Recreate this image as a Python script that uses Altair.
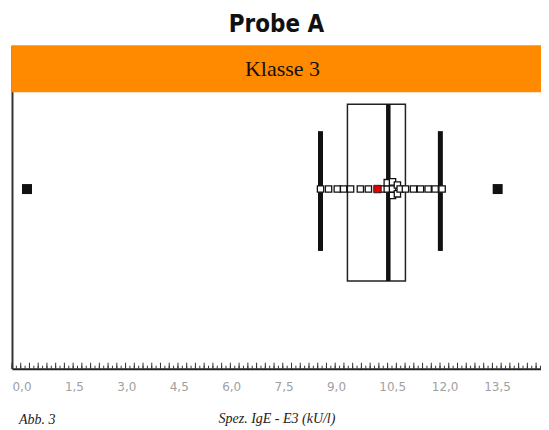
import altair as alt
import pandas as pd
import numpy as np

# ---- data ----
title_text = "Probe A"
band_label = "Klasse 3"
x_title = "Spez. IgE - E3 (kU/l)"
fig_label = "Abb. 3"

tick_labels = [0.0, 1.5, 3.0, 4.5, 6.0, 7.5, 9.0, 10.5, 12.0, 13.5]
x_max = 15.14

q1, median, q3 = 9.60, 10.77, 11.26
whiskers = [8.83, 12.26]
outliers = [0.43, 13.90]
mean_value = 10.46

point_values = [8.83, 9.06, 9.31, 9.49, 9.69, 9.97, 10.20, 10.60, 10.74, 10.74,
                10.89, 10.89, 10.89, 11.03, 11.03, 11.11, 11.26, 11.49, 11.69,
                11.91, 12.11, 12.31]
point_levels = [0, 0, 0, 0, 0, 0, 0, 0, 0, 0.8,
                0.9, 0, -0.8, 0.5, -0.6, 0, 0, 0, 0,
                0, 0, 0]

W = 530
H = 324

pts = pd.DataFrame({"v": point_values, "level": point_levels})
box_df = pd.DataFrame({"q1": [q1], "q3": [q3], "median": [median]})
wh_df = pd.DataFrame({"v": whiskers})
out_df = pd.DataFrame({"v": outliers})
mean_df = pd.DataFrame({"v": [mean_value], "level": [0]})
minor_df = pd.DataFrame({"v": np.arange(0, x_max, 0.125)})
mid_df = pd.DataFrame({"v": np.arange(0, x_max, 0.25)})

xscale = alt.Scale(domain=[0, x_max], nice=False, zero=False)
# level -> pixel: row centre 144px below plot top, 8px per level
yscale = alt.Scale(domain=[(144 - H) / 8, 144 / 8], nice=False, zero=False)

xaxis = alt.Axis(
    values=tick_labels,
    labelExpr="replace(format(datum.value, '.1f'), '.', ',')",
    labelAlign="left",
    labelFont="DejaVu Sans",
    labelFontSize=12,
    labelColor="#a0a0a0",
    labelPadding=13,
    ticks=False,
    grid=False,
    domainColor="#222222",
    domainWidth=2,
    title=x_title,
    titleFont="Liberation Serif",
    titleFontStyle="italic",
    titleFontWeight="normal",
    titleFontSize=14,
    titleColor="#222222",
    titlePadding=19,
)
yaxis = alt.Axis(labels=False, ticks=False, grid=False, title=None,
                 domainColor="#333333", domainWidth=2)

base = alt.Chart(pd.DataFrame({"a": [0]}))

band = base.mark_rect(color="#FF8A00").encode(
    x=alt.value(0), x2=alt.value(W), y=alt.value(0), y2=alt.value(47))
band_text = base.mark_text(font="Liberation Serif", fontSize=22, color="#111111",
                           baseline="middle").encode(
    x=alt.value(271), y=alt.value(24), text=alt.value(band_label))

axis_holder = alt.Chart(mean_df).mark_point(opacity=0).encode(
    x=alt.X("v:Q", scale=xscale, axis=xaxis),
    y=alt.Y("level:Q", scale=yscale, axis=yaxis),
)

minor_ticks = alt.Chart(minor_df).mark_rule(color="#333333", strokeWidth=1).encode(
    x=alt.X("v:Q", scale=xscale), y=alt.value(H), y2=alt.value(H - 3))
mid_ticks = alt.Chart(mid_df).mark_rule(color="#333333", strokeWidth=1).encode(
    x=alt.X("v:Q", scale=xscale), y=alt.value(H), y2=alt.value(H - 6))

box = alt.Chart(box_df).mark_rect(fill="white", stroke="#222222", strokeWidth=1.5).encode(
    x=alt.X("q1:Q", scale=xscale), x2="q3:Q", y=alt.value(59), y2=alt.value(236))
med = alt.Chart(box_df).mark_rule(color="#111111", strokeWidth=4.5).encode(
    x=alt.X("median:Q", scale=xscale), y=alt.value(59), y2=alt.value(236))
wh = alt.Chart(wh_df).mark_rule(color="#111111", strokeWidth=5).encode(
    x=alt.X("v:Q", scale=xscale), y=alt.value(86), y2=alt.value(206))
outl = alt.Chart(out_df).mark_square(size=100, color="#111111", opacity=1).encode(
    x=alt.X("v:Q", scale=xscale), y=alt.value(144))
points = alt.Chart(pts).mark_square(size=40, fill="white", stroke="#111111",
                                    strokeWidth=1.3, opacity=1).encode(
    x=alt.X("v:Q", scale=xscale), y=alt.Y("level:Q", scale=yscale))
mean_pt = alt.Chart(mean_df).mark_square(size=55, fill="#E00000", stroke="#222222",
                                         strokeWidth=1, opacity=1).encode(
    x=alt.X("v:Q", scale=xscale), y=alt.Y("level:Q", scale=yscale))

fig_text = base.mark_text(font="Liberation Serif", fontStyle="italic", fontSize=14,
                          color="#222222", align="left", baseline="alphabetic").encode(
    x=alt.value(7), y=alt.value(H + 55), text=alt.value(fig_label))

chart = alt.layer(
    band, band_text, axis_holder, minor_ticks, mid_ticks, box, med, wh, outl,
    points, mean_pt, fig_text
).properties(
    width=W, height=H,
    title=alt.TitleParams(title_text,
                          font="'DejaVu Sans Condensed', 'Roboto Condensed', 'Liberation Sans Narrow', Roboto, sans-serif",
                          fontSize=24, fontWeight="bold", color="#111111",
                          anchor="middle", offset=8),
    padding={"left": 3, "top": 5, "right": 0, "bottom": 0},
    background="white",
).configure_view(stroke=None)

chart.save("out.html", embed_options={"renderer": "svg", "actions": False})
